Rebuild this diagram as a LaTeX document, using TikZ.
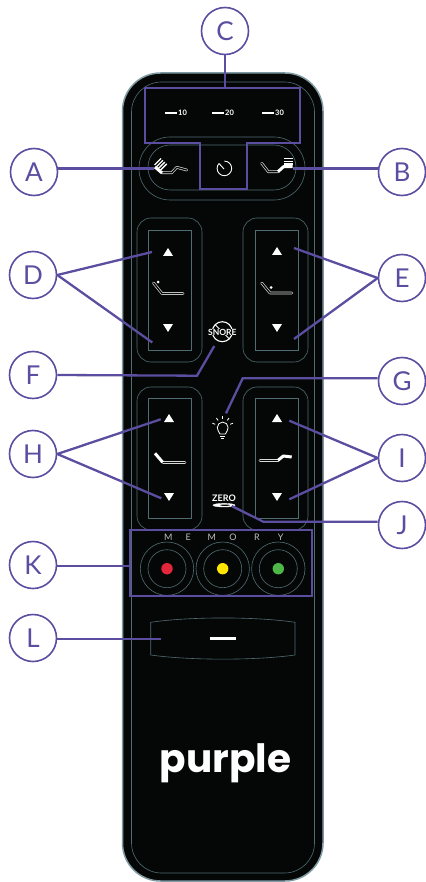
\documentclass[tikz,border=0pt]{standalone}
\usepackage{fontspec}
\setmainfont{Lato}
\newfontfamily\logofont{Poppins}
\definecolor{lilac}{HTML}{5B4DA0}
\definecolor{slate}{HTML}{4F6C72}
\definecolor{rim}{HTML}{7F9AA3}
\definecolor{body}{HTML}{050707}

\begin{document}
\begin{tikzpicture}[x=1pt, y=-1pt, main/.style={draw=lilac, circle, fill=white, minimum size=47pt, inner sep=0pt, line width=1.6pt, text=lilac, font=\fontsize{26}{26}\selectfont}, n/.style={draw=lilac, line width=2.3pt}, thin line/.style={draw=slate, line width=0.6pt}, icon/.style={draw=white!85!black, double=body, line width=0.7pt, double distance=1.3pt, line cap=round, line join=round}, thick icon/.style={draw=white, line width=3pt, line join=round}, small/.style={text=white, inner sep=0pt, font=\bfseries\fontsize{7.5}{7.5}\selectfont}]
    \useasboundingbox (0,0) rectangle (425,882);

    % remote
    \draw[draw=rim, fill=body, line width=1.5pt, rounded corners=38pt] (122.5,73) rectangle (323,881);
    \draw[thin line, rounded corners=30pt] (131.5,82) rectangle (314.5,873);
    \draw[thin line, rounded corners=31pt] (139,137) rectangle (305,200);
    \draw[thin line, rounded corners=22pt] (148,145) rectangle (296,190);
    \foreach \y/\h in {218/362, 387/530} {
        \draw[thin line, rounded corners=14pt] (137,\y) rectangle (202,\h);
        \draw[thin line, rounded corners=14pt] (243,\y) rectangle (308,\h);
    }
    \draw[thin line] (148,230) rectangle (191,350);
    \draw[thin line] (255,230) rectangle (298,350);
    \draw[thin line] (148,398) rectangle (191,518);
    \draw[thin line] (255,398) rectangle (298,518);

    % timer
    \foreach \x/\t in {165/10, 212/20, 262/30} {
        \draw[white, line width=2pt] (\x,113) -- ++(11.5,0);
        \node[small, right] (t\t) at (\x+13,113) {\t};
    }
    \draw[white, line width=0.9pt] (224.4,161.1) arc (270:582:7.3);
    \draw[white, line width=0.9pt] (219,163.5) -- (224,169);

    % massage
    \draw[icon] (161.7,172.7) -- (171.7,172.7) -- (176.7,167.3) -- (186.7,170);
    \draw[thick icon] (155,167) -- (162,173);
    \foreach \i in {0,1,2,3}
        \draw[white, line width=1.3pt] (154.5+1.9*\i,165+1.8*\i) -- ++(6.5,-6.5);
    \draw[icon] (261.7,163.3) -- (268.3,171.7) -- (278,171.7);
    \draw[thick icon] (278,171.7) -- (283.5,166.7) -- (292.7,166.7);
    \foreach \y in {158.8,161.4,164}
        \draw[white, line width=1.3pt] (284,\y) -- (293,\y);

    % arrows
    \foreach \x/\y in {168/252, 277/251, 169/418, 277/418}
        \fill[white] (\x-5,\y+4) -- (\x+5,\y+4) -- (\x,\y-4) -- cycle;
    \foreach \x/\y in {168/328, 277/328, 169/497, 277/497}
        \fill[white] (\x-5,\y-4) -- (\x+5,\y-4) -- (\x,\y+4) -- cycle;

    % beds
    \draw[icon] (153.5,283) -- (162,293.5) -- (183,293.5);
    \fill[white] (158,282) circle (1.5);
    \draw[icon] (261.7,283) -- (270,293) -- (291.7,293);
    \fill[white] (271,287.5) circle (1.5);
    \draw[icon] (163,462.3) -- (185,462.3);
    \draw[thick icon] (155,453.3) -- (162.7,462.3);
    \draw[icon] (260,460.3) -- (278.3,460.3);
    \draw[thick icon] (278,460.3) -- (283.3,456) -- (291.7,457);

    % snore, light, zero
    \draw[white, line width=1.1pt] (222.3,331.7) circle (10);
    \draw[white, line width=0.8pt] (215,324.5) -- (229.5,339);
    \node[small, font=\bfseries\fontsize{8.5}{8.5}\selectfont, fill=body, inner sep=0.3pt] (snore) at (222.3,332) {SNORE};
    \draw[white, line width=0.8pt, line join=round] (220,434) .. controls (218.5,431) and (217.3,430) .. (217.3,427.5) arc (180:360:5.4) .. controls (228.1,430) and (226.9,431) .. (225.4,434) -- cycle;
    \draw[white, line width=0.8pt] (220.3,436.3) -- (225.1,436.3) (221,438) -- (224.4,438);
    \foreach \a in {-160,-125,-90,-55,-20}
        \draw[white, line width=0.8pt] (222.7,427) ++(\a:8) -- ++(\a:3);
    \node[small, font=\bfseries\fontsize{9}{9}\selectfont] (zero) at (224,498.3) {ZERO};
    \draw[white, fill=white, line width=0.4pt] (224,505.2) ellipse (11 and 1.8);
    \fill[body] (225,505.2) ellipse (5 and 0.7);

    % memory
    \foreach \x/\c in {167/E3263A, 222.7/FFE600, 278.3/4DB848} {
        \definecolor{dot}{HTML}{\c}
        \draw[thin line] (\x,568.7) circle (26.7);
        \draw[thin line] (\x,568.7) circle (19);
        \fill[dot] (\x,568.7) circle (5.7);
    }
    \foreach \x/\t in {168.3/M, 188.3/E, 211.7/M, 233/O, 257/R, 280.7/Y}
        \node[text=white!75!black, inner sep=0pt, font=\fontsize{9}{9}\selectfont] (m\t\x) at (\x,537.3) {\t};

    % power
    \draw[thin line] (150.7,622.3) .. controls (190,616.5) and (256,616.5) .. (295,622.3) -- (295,655) .. controls (256,660.5) and (190,660.5) .. (150.7,655) -- cycle;
    \draw[white, line width=3pt] (210,638.3) -- (235.7,638.3);

    % logo
    \node[text=white, inner sep=0pt, font=\logofont\bfseries\fontsize{39}{39}\selectfont] (logo) at (225.5,763) {purple};

    % nodes
    \node[main] (a) at (34,172) {A};
    \node[main] (b) at (402,172) {B};
    \node[main] (c) at (225,31) {C};
    \node[main] (d) at (33,275) {D};
    \node[main] (e) at (402,278) {E};
    \node[main] (f) at (33,375) {F};
    \node[main] (g) at (402,381) {G};
    \node[main] (h) at (33,454) {H};
    \node[main] (i) at (402,458) {I};
    \node[main] (j) at (402,525) {J};
    \node[main] (k) at (33,565) {K};
    \node[main] (l) at (33,638) {L};

    \coordinate (aend) at (153.5,168.5);
    \coordinate (bend) at (293,168.5);
    \coordinate (cend) at (225,88);
    \coordinate (dup) at (152,252);
    \coordinate (ddown) at (152.3,342.5);
    \coordinate (eup) at (294,248);
    \coordinate (edown) at (294,339);
    \coordinate (fbend) at (197,375.7);
    \coordinate (fend) at (214.3,346);
    \coordinate (gbend) at (242.7,378.3);
    \coordinate (gend) at (226,413.3);
    \coordinate (hup) at (160.7,419.3);
    \coordinate (hdown) at (161.3,498.3);
    \coordinate (iup) at (289.3,420.7);
    \coordinate (idown) at (289.3,499.3);
    \coordinate (jbend) at (263.3,521.7);
    \coordinate (jend) at (231.7,506);
    \coordinate (kend) at (130,566.3);
    \coordinate (lend) at (160.7,639);

    % boxes
    \draw[n, line join=miter] (145,88) -- (cend) -- (300,88) -- (300,143) -- (247,143) -- (247,189) -- (200,189) -- (200,143) -- (145,143) -- cycle;
    \draw[n] (130,530) rectangle (311.7,596);

    % edges
    \draw[n] (a.east |- aend) -- (aend);
    \draw[n] (b.west |- bend) -- (bend);
    \draw[n] (c) -- (cend);
    \draw[n] (d.east) -- (dup);
    \draw[n] (d.east) -- (ddown);
    \draw[n] (e.west) -- (eup);
    \draw[n] (e.west) -- (edown);
    \draw[n] (f.east) -- (fbend) -- (fend);
    \draw[n] (g.west |- gbend) -- (gbend) -- (gend);
    \draw[n] (h.east) -- (hup);
    \draw[n] (h.east) -- (hdown);
    \draw[n] (i.west) -- (iup);
    \draw[n] (i.west) -- (idown);
    \draw[n] (j.west |- jbend) -- (jbend) -- (jend);
    \draw[n] (k.east |- kend) -- (kend);
    \draw[n] (l.east |- lend) -- (lend);
\end{tikzpicture}
\end{document}
